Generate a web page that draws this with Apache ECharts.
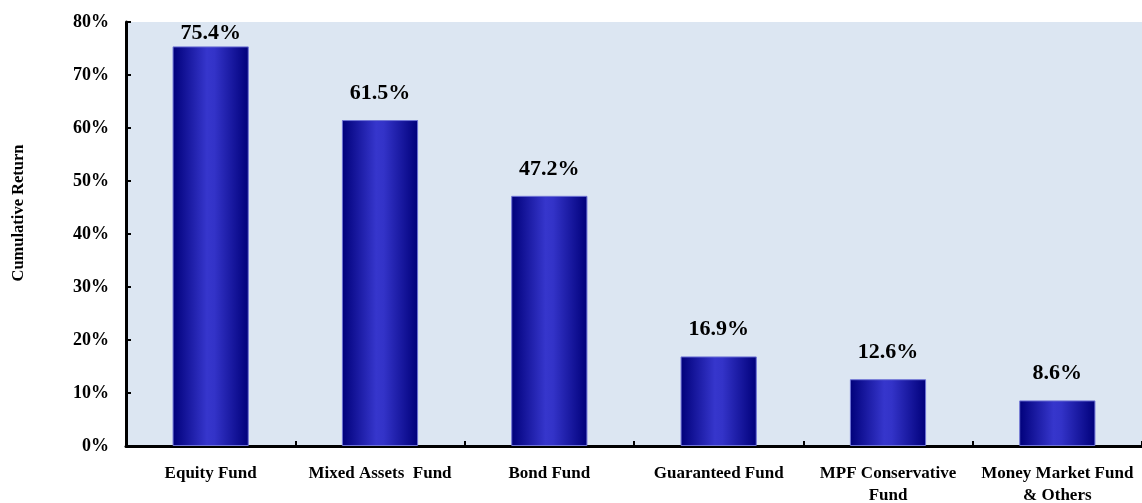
<!DOCTYPE html>
<html><head><meta charset="utf-8">
<script src="https://cdn.jsdelivr.net/npm/echarts@6/dist/echarts.min.js"></script>
<style>html,body{margin:0;padding:0;background:#fff}#c{width:1142px;height:503px}</style>
</head><body><div id="c"></div>
<script>
const categories = ['Equity Fund', 'Mixed Assets  Fund', 'Bond Fund', 'Guaranteed Fund', 'MPF Conservative\nFund', 'Money Market Fund\n& Others'];
const values = [75.4, 61.5, 47.2, 16.9, 12.6, 8.6];
const yTicks = [0, 10, 20, 30, 40, 50, 60, 70, 80];
const FONT = '"Liberation Serif", "Times New Roman", serif';
const chart = echarts.init(document.getElementById('c'), null, {renderer: 'canvas'});
chart.setOption({
  animation: false,
  backgroundColor: '#ffffff',
  grid: {left: 126, right: 0, top: 22, bottom: 57, show: true, backgroundColor: '#dce6f2', borderWidth: 0,
    containLabel: false, outerBoundsMode: 'none'},
  xAxis: {
    type: 'category', data: categories,
    axisLine: {lineStyle: {color: '#000', width: 3}},
    axisTick: {show: true, inside: true, alignWithLabel: false, length: 5, lineStyle: {color: '#000', width: 2}},
    axisLabel: {color: '#000', fontFamily: FONT, fontWeight: 'bold', fontSize: 17, margin: 17, lineHeight: 22, interval: 0}
  },
  yAxis: {
    type: 'value', min: 0, max: 80, interval: 10,
    name: 'Cumulative Return', nameLocation: 'middle', nameGap: 99, nameRotate: 90,
    nameTextStyle: {color: '#000', fontFamily: FONT, fontWeight: 'bold', fontSize: 16.5, padding: [0, 0, 0, 42]},
    axisLine: {show: true, lineStyle: {color: '#000', width: 3}},
    axisTick: {show: true, inside: true, length: 5, lineStyle: {color: '#000', width: 2}},
    splitLine: {show: false},
    axisLabel: {color: '#000', fontFamily: FONT, fontWeight: 'bold', fontSize: 18, margin: 17,
      formatter: v => yTicks.includes(v) ? v + '%' : ''}
  },
  series: [{
    type: 'bar',
    data: values.map((v, i) => i === 0 ? {value: v, label: {distance: 2}} : v),
    barWidth: '45%',
    itemStyle: {
      color: new echarts.graphic.LinearGradient(0, 0, 1, 0, [
        {offset: 0, color: '#00007a'},
        {offset: 0.45, color: '#3636cc'},
        {offset: 0.55, color: '#3333c8'},
        {offset: 1, color: '#00007a'}
      ]),
      borderColor: '#6f74d6', borderWidth: 1
    },
    label: {show: true, position: 'top', distance: 16, color: '#000', fontFamily: FONT, fontWeight: 'bold', fontSize: 22,
      formatter: p => p.value.toFixed(1) + '%'}
  }]
});
</script></body></html>
